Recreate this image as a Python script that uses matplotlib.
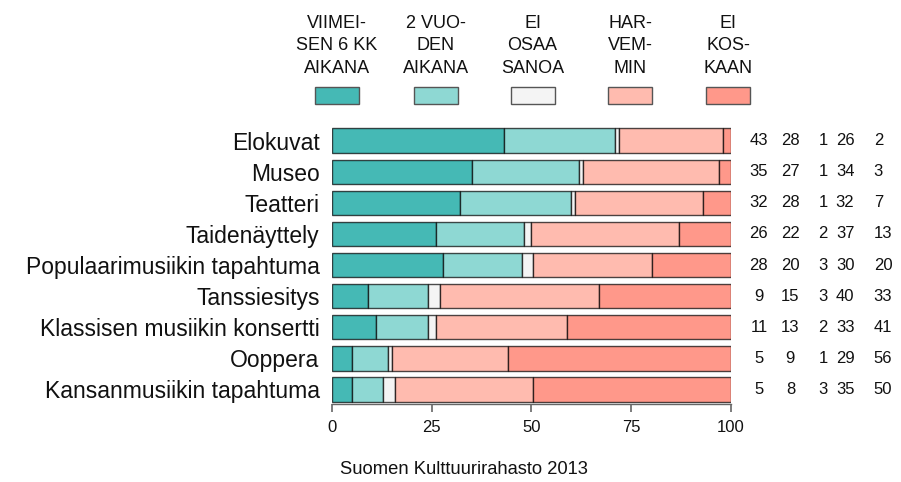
import matplotlib
matplotlib.use('Agg')
import matplotlib.pyplot as plt
from matplotlib.patches import Rectangle
import numpy as np

# Font
matplotlib.rcParams['font.family'] = ['Liberation Sans', 'DejaVu Sans']

# Data
categories = ['Elokuvat', 'Museo', 'Teatteri', 'Taidenäyttely',
              'Populaarimusiikin tapahtuma', 'Tanssiesitys',
              'Klassisen musiikin konsertti', 'Ooppera',
              'Kansanmusiikin tapahtuma']
series_labels = [['VIIMEI-', 'SEN 6 KK', 'AIKANA'], ['2 VUO-', 'DEN', 'AIKANA'],
                 ['EI', 'OSAA', 'SANOA'], ['HAR-', 'VEM-', 'MIN'], ['EI', 'KOS-', 'KAAN']]
viimeisen_6kk = [43, 35, 32, 26, 28, 9, 11, 5, 5]
kahden_vuoden = [28, 27, 28, 22, 20, 15, 13, 9, 8]
ei_osaa = [1, 1, 1, 2, 3, 3, 2, 1, 3]
harvemmin = [26, 34, 32, 37, 30, 40, 33, 29, 35]
ei_koskaan = [2, 3, 7, 13, 20, 33, 41, 56, 50]
colors = ['#45B9B5', '#8ED8D3', '#F4F4F4', '#FFBBAF', '#FF988A']
source = 'Suomen Kulttuurirahasto 2013'

values = np.array([viimeisen_6kk, kahden_vuoden, ei_osaa, harvemmin, ei_koskaan], dtype=float)
shares = values / values.sum(axis=0) * 100

fig = plt.figure(figsize=(9.01, 4.82), dpi=100)
ax = fig.add_axes([0.3685, 0.1618, 0.4428, 0.5768])

y = np.arange(len(categories))
left = np.zeros(len(categories))
for i in range(len(shares)):
    ax.barh(y, shares[i], left=left, height=0.8, color=colors[i],
            edgecolor=(0, 0, 0, 0.7), linewidth=1.0)
    left += shares[i]

# Numbers to the right of the bars
col_x = [107.0, 114.9, 123.1, 128.6, 135.8]
col_ha = ['center', 'center', 'center', 'center', 'left']
for r in range(len(categories)):
    for c in range(len(values)):
        ax.text(col_x[c], y[r], str(int(values[c][r])), ha=col_ha[c], va='center',
                fontsize=12, color='#111111', clip_on=False)

ax.set_xlim(0, 100)
ax.set_ylim(8.48, -0.48)
ax.set_yticks(y)
ax.set_yticklabels(categories, fontsize=16.5, color='#111111')
ax.set_xticks([0, 25, 50, 75, 100])
ax.tick_params(axis='y', length=0, pad=9)
ax.tick_params(axis='x', length=6, width=1.2, color='#666666', labelsize=12,
               labelcolor='#111111', pad=5.5)
for s in ['top', 'right', 'left']:
    ax.spines[s].set_visible(False)
ax.spines['bottom'].set_color('#666666')
ax.spines['bottom'].set_linewidth(1.0)

# Legend on top
legend_x = [337, 436, 532.5, 630, 728]
baselines = [28, 50.5, 73]
for i in range(len(series_labels)):
    cx = legend_x[i] / 901
    fig.patches.append(Rectangle((cx - 22 / 901, 1 - 104 / 482), 44 / 901, 17 / 482,
                                 transform=fig.transFigure, facecolor=colors[i],
                                 edgecolor='#555555', linewidth=1.0))
    for j, line in enumerate(series_labels[i]):
        fig.text(cx, 1 - baselines[j] / 482, line, ha='center', va='baseline',
                 fontsize=13, color='#111111')

fig.text(464 / 901, 1 - 470 / 482, source, ha='center', va='center',
         fontsize=13.2, color='#111111')

fig.savefig('out.png', dpi=100)
